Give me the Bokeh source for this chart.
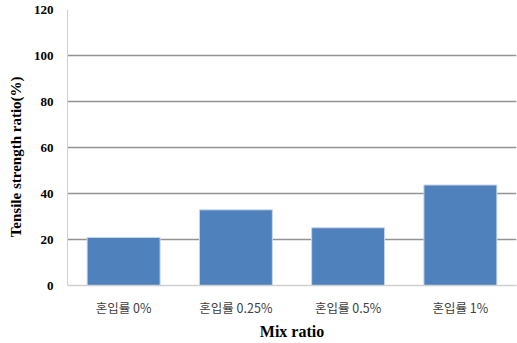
from bokeh.plotting import figure
from bokeh.models import Range1d, FixedTicker
from bokeh.embed import file_html
from bokeh.resources import INLINE

categories = ["혼입률 0%", "혼입률 0.25%", "혼입률 0.5%", "혼입률 1%"]
values = [20.9, 32.9, 25.1, 43.7]
y_ticks = [0, 20, 40, 60, 80, 100, 120]

p = figure(x_range=categories, y_range=Range1d(0, 120), width=517, height=343,
           output_backend="svg", toolbar_location=None,
           min_border_left=67, min_border_right=1, min_border_top=9, min_border_bottom=58)

p.vbar(x=categories, top=values, width=0.65, fill_color="#4F81BD",
       line_color="#c9d7ea", line_width=1)

p.outline_line_color = None
p.background_fill_color = "white"
p.border_fill_color = "white"

p.xgrid.grid_line_color = None
p.ygrid.grid_line_color = "#939393"
p.ygrid.grid_line_width = 1.3
p.yaxis.ticker = FixedTicker(ticks=y_ticks)

p.yaxis.axis_line_color = "#d0d0d0"
p.yaxis.major_tick_line_color = None
p.yaxis.minor_tick_line_color = None
p.yaxis.major_tick_out = 0
p.yaxis.major_label_standoff = 14
p.yaxis.major_label_text_font = "Liberation Serif"
p.yaxis.major_label_text_font_style = "bold"
p.yaxis.major_label_text_font_size = "13px"
p.yaxis.major_label_text_color = "#000000"
p.yaxis.axis_label = "Tensile strength ratio(%)" + "\u00a0" * 5
p.yaxis.axis_label_text_font = "Liberation Serif"
p.yaxis.axis_label_text_font_style = "bold"
p.yaxis.axis_label_text_font_size = "15px"
p.yaxis.axis_label_text_color = "#000000"
p.yaxis.axis_label_standoff = 7

p.xaxis.axis_line_color = "#d0d0d0"
p.xaxis.axis_line_width = 1.5
p.xaxis.major_tick_line_color = None
p.xaxis.minor_tick_line_color = None
p.xaxis.major_tick_out = 0
p.xaxis.major_label_standoff = 12
p.xaxis.major_label_text_font = "Noto Sans CJK KR"
p.xaxis.major_label_text_font_size = "12.5px"
p.xaxis.major_label_text_color = "#404040"
p.xaxis.axis_label = "Mix ratio"
p.xaxis.axis_label_text_font = "Liberation Serif"
p.xaxis.axis_label_text_font_style = "bold"
p.xaxis.axis_label_text_font_size = "16px"
p.xaxis.axis_label_text_color = "#000000"
p.xaxis.axis_label_standoff = 3

open("out.html", "w").write(file_html(p, INLINE))
